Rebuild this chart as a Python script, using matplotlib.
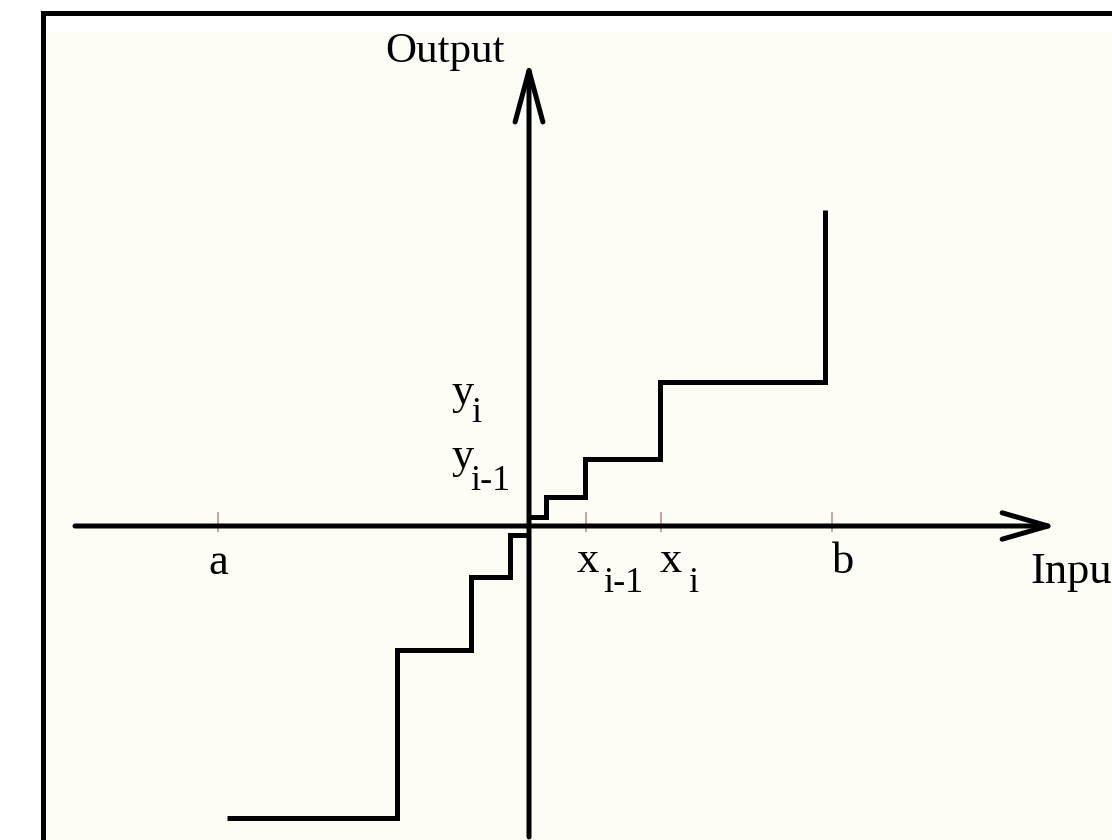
import matplotlib
matplotlib.use("Agg")
import matplotlib.pyplot as plt
from matplotlib.patches import FancyArrowPatch, ArrowStyle, Rectangle
from matplotlib.lines import Line2D

# ---- data (units: arbitrary, origin at the axes crossing) ----
neg_x = [-30.2, -13.2, -5.8, -1.9, -0.2]
neg_y = [-29.2, -12.4, -5.1, -0.9, -0.9]
pos_x = [0.0, 1.7, 5.6, 13.1, 29.6]
pos_y = [0.9, 2.9, 6.7, 14.4, 31.6]

tick_x = [-31.1, 5.7, 13.2, 30.3]
tick_main = ["a", "x", "x", "b"]
tick_sub = ["", "i-1", "i", ""]

ylabel_main = ["y", "y"]
ylabel_sub = ["i", "i-1"]

W, H = 1112, 840
fig = plt.figure(figsize=(W / 100, H / 100), dpi=100)
fig.patch.set_facecolor("white")

# frame + background
fig.add_artist(Rectangle((45 / W, 0), 1, (H - 32) / H, transform=fig.transFigure,
                         facecolor="#fdfdf6", edgecolor="none", zorder=0))
fig.add_artist(Line2D([42.5 / W, 42.5 / W], [-0.1, (H - 12.5) / H],
                      transform=fig.transFigure, color="black", lw=3.6,
                      solid_capstyle="projecting", zorder=1))
fig.add_artist(Line2D([42.5 / W, 1.1], [(H - 12.5) / H, (H - 12.5) / H],
                      transform=fig.transFigure, color="black", lw=3.6,
                      solid_capstyle="projecting", zorder=1))

ax = fig.add_axes([0, 0, 1, 1])
ax.set_xlim(-52.9, 58.3)
ax.set_ylim(-31.4, 52.6)
ax.axis("off")
ax.patch.set_visible(False)

lw = 3.6
# axes with arrows
xarr = FancyArrowPatch((-45.4, 0), (52.8, 0),
                       arrowstyle=ArrowStyle("->", head_length=33, head_width=9.5),
                       mutation_scale=1, lw=lw, color="black",
                       shrinkA=0, shrinkB=0, zorder=3)
yarr = FancyArrowPatch((0, -31.1), (0, 46.5),
                       arrowstyle=ArrowStyle("->", head_length=37, head_width=10),
                       mutation_scale=1, lw=lw, color="black",
                       shrinkA=0, shrinkB=0, zorder=3)
ax.add_patch(xarr)
ax.add_patch(yarr)

# ticks
ax.vlines(tick_x, -0.6, 1.4, color="#b4949e", lw=1.2, zorder=2)

# staircase
ax.plot(neg_x, neg_y, drawstyle="steps-post", color="black", lw=lw,
        solid_joinstyle="miter", solid_capstyle="butt", zorder=4)
ax.plot(pos_x, pos_y, drawstyle="steps-post", color="black", lw=lw,
        solid_joinstyle="miter", solid_capstyle="butt", zorder=4)

font = "Liberation Serif"
main_fs = 32
sub_fs = 26

# tick labels
ax.text(tick_x[0], -4.8, tick_main[0], ha="center", va="baseline",
        fontsize=main_fs, family=font)
ax.text(4.8, -4.6, tick_main[1], ha="left", va="baseline", fontsize=main_fs, family=font)
ax.text(7.4, -6.6, tick_sub[1], ha="left", va="baseline", fontsize=sub_fs, family=font)
ax.text(13.1, -4.6, tick_main[2], ha="left", va="baseline", fontsize=main_fs, family=font)
ax.text(15.9, -6.6, tick_sub[2], ha="left", va="baseline", fontsize=sub_fs, family=font)
ax.text(30.3, -4.7, tick_main[3], ha="left", va="baseline", fontsize=main_fs, family=font)

# y labels
ax.text(-7.7, 12.2, ylabel_main[0], ha="left", va="baseline", fontsize=main_fs, family=font)
ax.text(-5.8, 10.4, ylabel_sub[0], ha="left", va="baseline", fontsize=sub_fs, family=font)
ax.text(-7.7, 5.8, ylabel_main[1], ha="left", va="baseline", fontsize=main_fs, family=font)
ax.text(-5.9, 3.6, ylabel_sub[1], ha="left", va="baseline", fontsize=sub_fs, family=font)

# axis titles
ax.text(-14.4, 46.4, "Output", ha="left", va="baseline", fontsize=31, family=font)
ax.text(50.1, -5.7, "Input", ha="left", va="baseline", fontsize=32, family=font)

fig.savefig("out.png", dpi=100, facecolor="white")
